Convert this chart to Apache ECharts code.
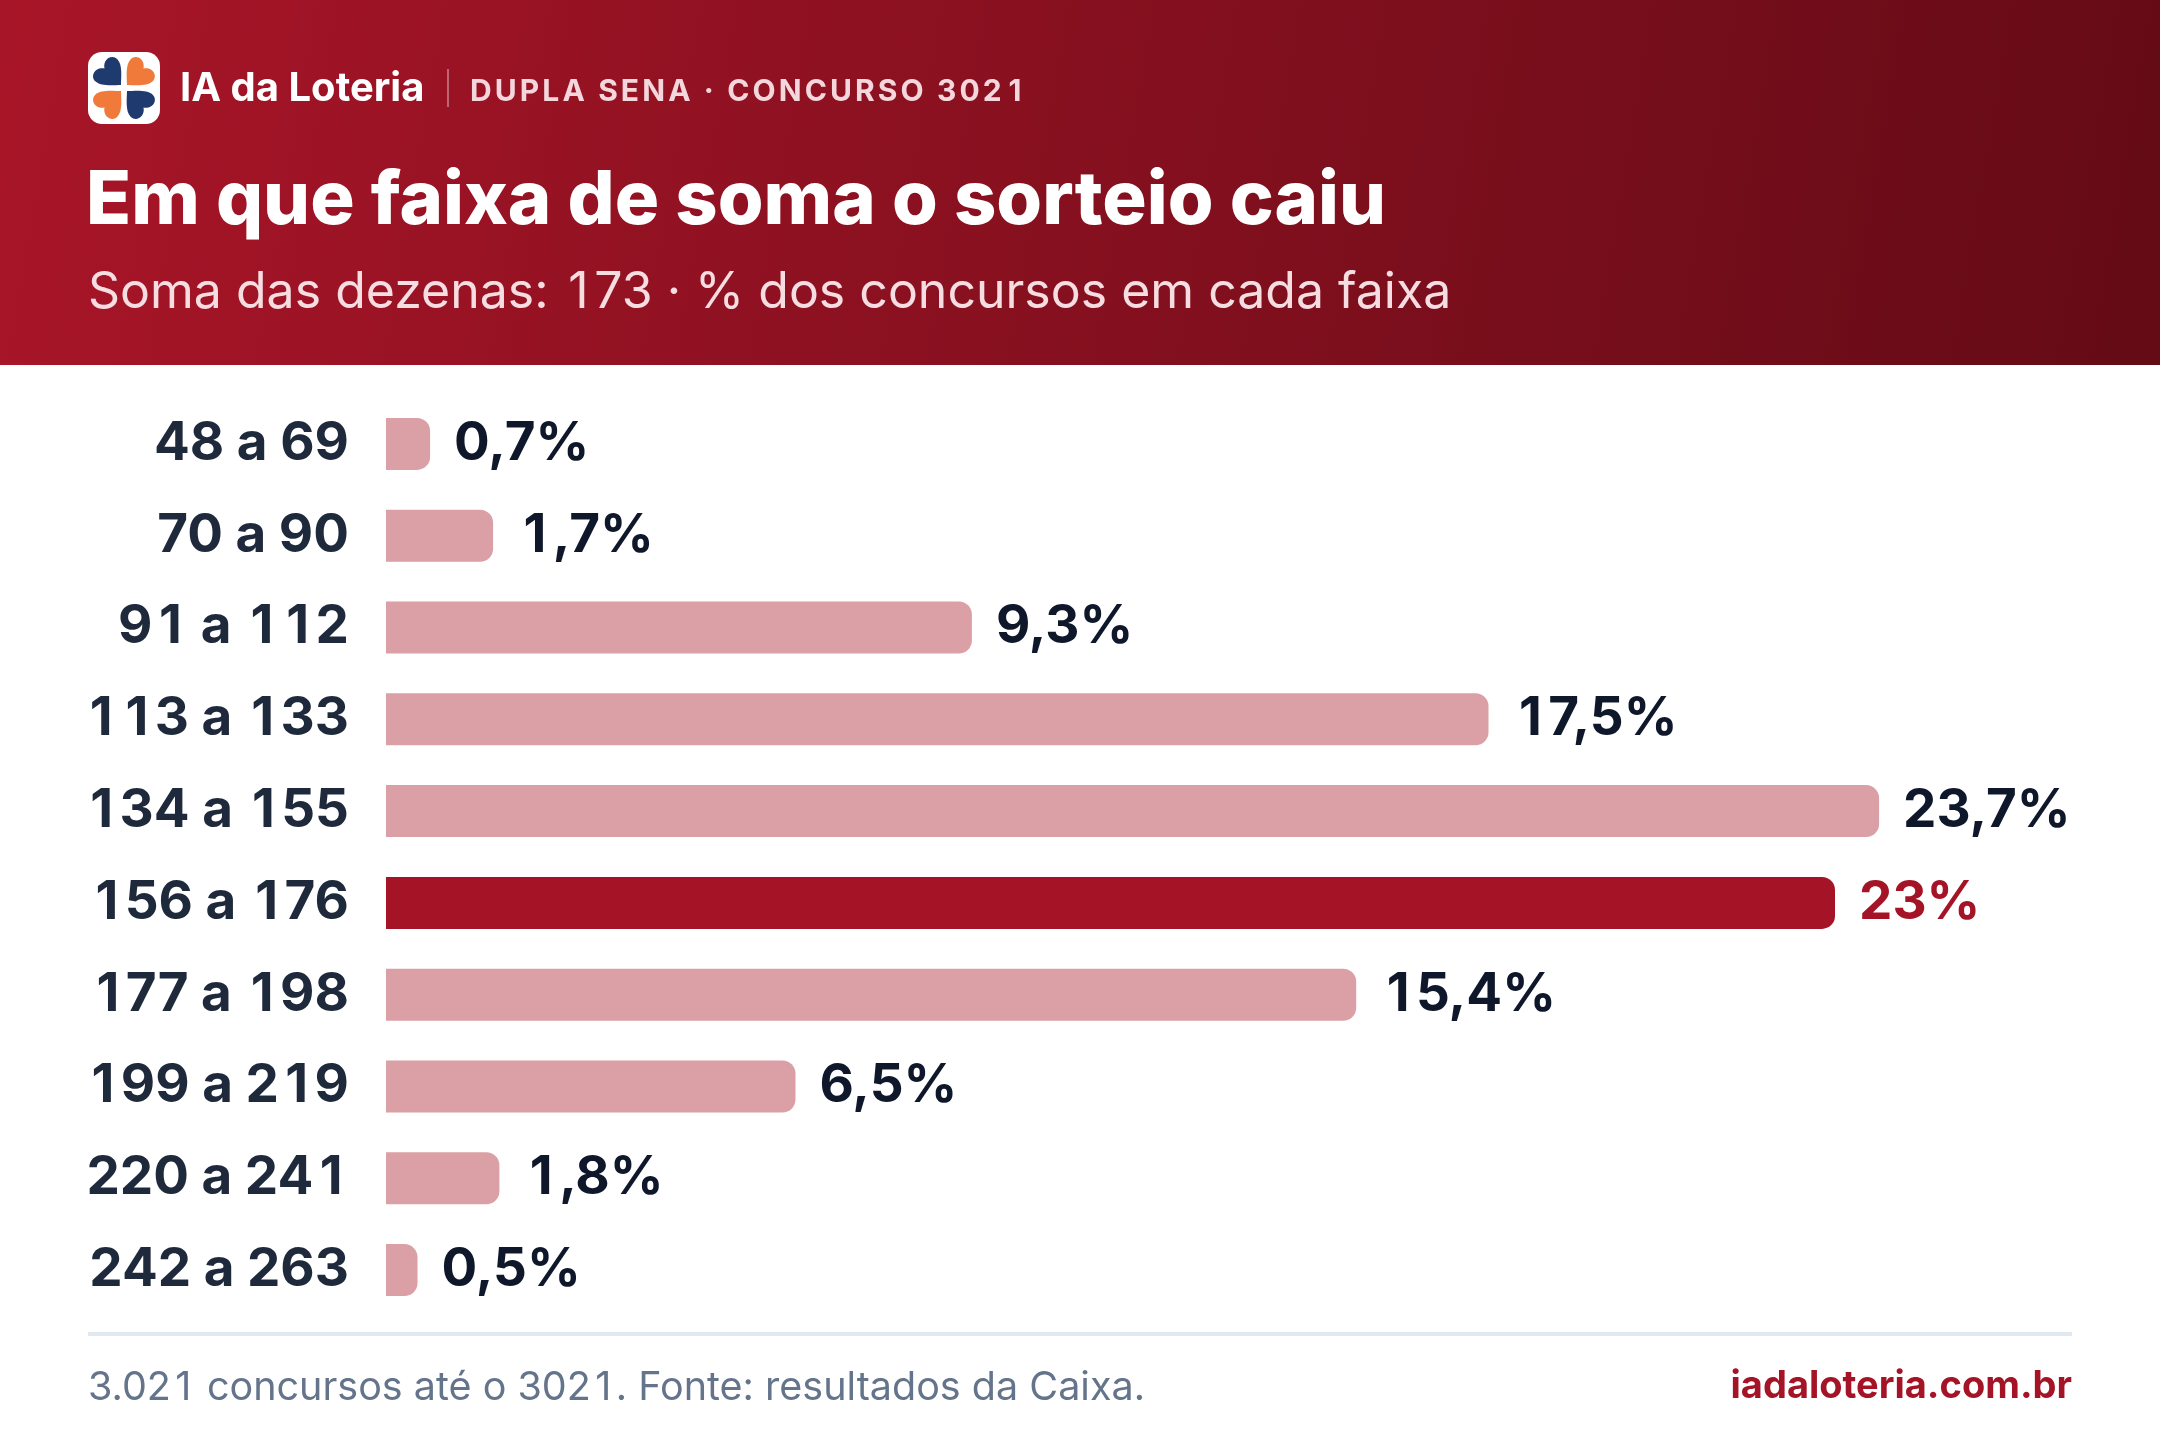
<!DOCTYPE html>
<html lang="pt-BR">
<head>
<meta charset="UTF-8">
<title>Dupla Sena - faixa de soma</title>
<script src="https://cdn.jsdelivr.net/npm/echarts@6/dist/echarts.min.js"></script>
<style>
  html, body { margin: 0; padding: 0; background: #fff; }
  #main { width: 2160px; height: 1440px; }
</style>
</head>
<body>
<div id="main"></div>
<script>
// faixas de soma das dezenas e % de concursos em cada uma
var faixas = ['48 a 69', '70 a 90', '91 a 112', '113 a 133', '134 a 155',
              '156 a 176', '177 a 198', '199 a 219', '220 a 241', '242 a 263'];
var percentuais = [0.7, 1.7, 9.3, 17.5, 23.7, 23, 15.4, 6.5, 1.8, 0.5];
var faixaSorteada = '156 a 176'; // soma 173

var corBarra = '#dba0a6';
var corDestaque = '#a51426';
var corTexto = '#1e293b';
var fonte = 'Inter, "Noto Sans", sans-serif';

// o original usa algarismos tabulares: o "1" ocupa a largura do "0"
var ctx = document.createElement('canvas').getContext('2d');
function larg(txt, size, weight) {
  ctx.font = (weight || 400) + ' ' + size + 'px ' + fonte;
  return ctx.measureText(txt).width;
}
function tab(txt) { return String(txt).replace(/1/g, '{t|1}'); }
function richTab(size, weight, cor, graf) {
  var s = { fontSize: size, fontWeight: weight, fontFamily: fonte,
            width: larg('0', size, weight), align: 'center' };
  if (graf) s.fill = cor; else s.color = cor;
  return { t: s };
}

var dados = percentuais.map(function (v, i) {
  var hit = faixas[i] === faixaSorteada;
  var cor = hit ? corDestaque : '#0f172a';
  return {
    value: v,
    itemStyle: { color: hit ? corDestaque : corBarra },
    label: { color: cor, rich: richTab(53, 700, cor) }
  };
});

// linha "DUPLA SENA · CONCURSO 3021" com espaçamento entre letras
var kicker = 'DUPLA SENA · CONCURSO 3021';
var kickerChars = [];
var kx = 0;
kicker.split('').forEach(function (ch) {
  var w = ch === '1' ? larg('0', 30, 700) : larg(ch, 30, 700);
  kickerChars.push({
    type: 'text', x: kx + (ch === '1' ? (w - larg('1', 30, 700)) / 2 : 0), y: 0,
    style: { text: ch, fontSize: 30, fontWeight: 700, fill: '#f4d7dc', fontFamily: fonte }
  });
  kx += w + 3.1;
});

// logo: quatro corações apontando para o centro
function coracao(cx, cy, ang, s) {
  var pts = [[0, 12], [-4, 8], [-12, 2], [-12, -4], [-12, -10], [-4, -12], [0, -6],
             [4, -12], [12, -10], [12, -4], [12, 2], [4, 8], [0, 12]];
  var c = Math.cos(ang), sn = Math.sin(ang);
  var p = pts.map(function (q) {
    return ((q[0] * c - q[1] * sn) * s + cx).toFixed(2) + ' ' + ((q[0] * sn + q[1] * c) * s + cy).toFixed(2);
  });
  return 'M' + p[0] + ' C' + p[1] + ' ' + p[2] + ' ' + p[3] + ' C' + p[4] + ' ' + p[5] + ' ' + p[6] +
         ' C' + p[7] + ' ' + p[8] + ' ' + p[9] + ' C' + p[10] + ' ' + p[11] + ' ' + p[12] + ' Z';
}
var d45 = Math.PI / 4;
var folhas = [[22, 22, -d45, '#1f3a6e'], [50, 22, d45, '#ef7a3a'],
              [22, 50, -3 * d45, '#ef7a3a'], [50, 50, 3 * d45, '#1f3a6e']];
var logoFilhos = [{ type: 'rect', shape: { x: 0, y: 0, width: 72, height: 72, r: 14 }, style: { fill: '#ffffff' } }];
folhas.forEach(function (f, i) {
  echarts.graphic.registerShape('coracao' + i, echarts.graphic.extendPath(coracao(f[0], f[1], f[2], 1.3), {}));
  logoFilhos.push({ type: 'coracao' + i, style: { fill: f[3] } });
});

var chart = echarts.init(document.getElementById('main'));
chart.setOption({
  backgroundColor: '#ffffff',
  animation: false,
  grid: { left: 386, top: 398, width: 1575, height: 918, containLabel: false },
  xAxis: { type: 'value', min: 0, max: 25, show: false },
  yAxis: {
    type: 'category', data: faixas, inverse: true,
    axisLine: { show: false }, axisTick: { show: false },
    axisLabel: {
      margin: 37, fontSize: 53, fontWeight: 700,
      color: corTexto, fontFamily: fonte,
      formatter: function (v) { return tab(v); },
      rich: richTab(53, 700, corTexto)
    }
  },
  series: [{
    type: 'bar',
    data: dados,
    barWidth: 52,
    itemStyle: { borderRadius: [0, 13, 13, 0] },
    label: {
      show: true, position: 'right', distance: 24,
      fontSize: 53, fontWeight: 700, fontFamily: fonte,
      formatter: function (p) { return tab(String(p.value).replace('.', ',') + '%'); }
    }
  }],
  graphic: [
    // faixa do cabeçalho
    {
      type: 'rect', left: 0, top: 0, z: -1,
      shape: { width: 2160, height: 365 },
      style: {
        fill: new echarts.graphic.LinearGradient(0, 0, 1, 1, [
          { offset: 0, color: '#a81528' },
          { offset: 1, color: '#640b16' }
        ])
      }
    },
    // logo
    { type: 'group', x: 88, y: 52, children: logoFilhos },
    {
      type: 'text', left: 180, top: 69,
      style: { text: 'IA da Loteria', fontSize: 40, fontWeight: 700, fill: '#ffffff', fontFamily: fonte }
    },
    {
      type: 'rect', left: 447, top: 69,
      shape: { width: 2, height: 38 },
      style: { fill: 'rgba(255,255,255,0.35)' }
    },
    { type: 'group', left: 470, top: 77, children: kickerChars },
    {
      type: 'text', left: 86, top: 165,
      style: { text: 'Em que faixa de soma o sorteio caiu', fontSize: 74, fontWeight: 800, fill: '#ffffff', fontFamily: fonte }
    },
    {
      type: 'text', left: 88, top: 268,
      style: {
        text: tab('Soma das dezenas: 173 · % dos concursos em cada faixa'),
        fontSize: 50, fill: '#f6dde1', fontFamily: fonte,
        rich: richTab(50, 400, '#f6dde1', true)
      }
    },
    // rodapé
    {
      type: 'rect', left: 88, top: 1332,
      shape: { width: 1984, height: 4 },
      style: { fill: '#e2e8f0' }
    },
    {
      type: 'text', left: 88, top: 1368,
      style: {
        text: tab('3.021 concursos até o 3021. Fonte: resultados da Caixa.'),
        fontSize: 39.5, fill: '#64748b', fontFamily: fonte,
        rich: richTab(39.5, 400, '#64748b', true)
      }
    },
    {
      type: 'text', right: 88, top: 1368,
      style: { text: 'iadaloteria.com.br', fontSize: 38, fontWeight: 700, fill: corDestaque, fontFamily: fonte }
    }
  ]
});
</script>
</body>
</html>
